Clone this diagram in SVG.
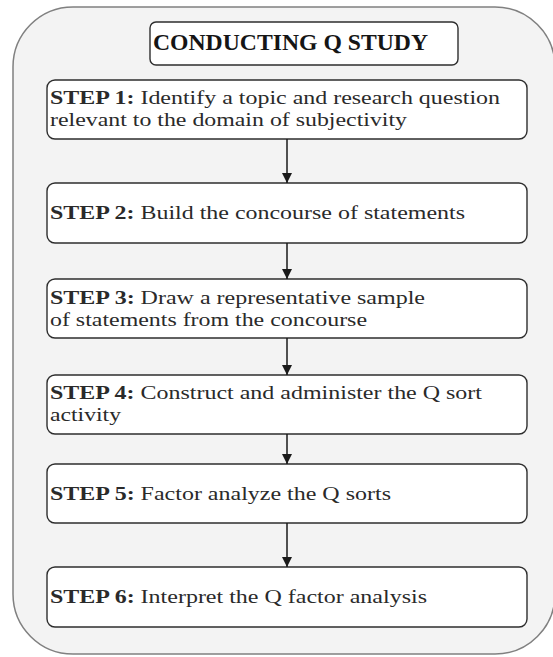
<svg xmlns="http://www.w3.org/2000/svg" width="553" height="657" viewBox="0 0 553 657">
  <style>
    .outer { fill: #f3f3f3; stroke: #808080; stroke-width: 1.5; }
    .box { fill: #ffffff; stroke: #2e2e2e; stroke-width: 1.4; }
    .t { font-family: "Liberation Serif", "Times New Roman", serif; font-size: 19.5px; fill: #2a2a2a; }
    .title { font-family: "Liberation Serif", "Times New Roman", serif; font-size: 23px; font-weight: bold; fill: #151515; }
    .b { font-weight: bold; }
    .conn { stroke: #1a1a1a; stroke-width: 1.5; fill: none; marker-end: url(#arrow); }
  </style>
  <defs>
    <marker id="arrow" viewBox="0 0 10 10" refX="10" refY="5" markerWidth="10" markerHeight="10" markerUnits="userSpaceOnUse" orient="auto">
      <path d="M0,0 L10,5 L0,10 Z" fill="#1a1a1a"/>
    </marker>
  </defs>

  <g id="container">
    <rect class="outer" x="13" y="7" width="542" height="647" rx="60" ry="60"/>
  </g>

  <g id="title">
    <rect class="box" x="150" y="22" width="308" height="43" rx="6"/>
    <text class="title" x="153" y="50" textLength="275" lengthAdjust="spacingAndGlyphs">CONDUCTING Q STUDY</text>
  </g>

  <g id="step1">
    <rect class="box" x="47" y="80" width="480" height="59" rx="8"/>
    <text class="t" x="50" y="104" textLength="450" lengthAdjust="spacingAndGlyphs"><tspan class="b">STEP 1:</tspan> Identify a topic and research question</text>
    <text class="t" x="50" y="126" textLength="357" lengthAdjust="spacingAndGlyphs">relevant to the domain of subjectivity</text>
  </g>

  <g id="step2">
    <rect class="box" x="47" y="183" width="480" height="60" rx="8"/>
    <text class="t" x="50" y="219" textLength="415" lengthAdjust="spacingAndGlyphs"><tspan class="b">STEP 2:</tspan> Build the concourse of statements</text>
  </g>

  <g id="step3">
    <rect class="box" x="47" y="279" width="480" height="59" rx="8"/>
    <text class="t" x="50" y="304" textLength="375" lengthAdjust="spacingAndGlyphs"><tspan class="b">STEP 3:</tspan> Draw a representative sample</text>
    <text class="t" x="50" y="326" textLength="317" lengthAdjust="spacingAndGlyphs">of statements from the concourse</text>
  </g>

  <g id="step4">
    <rect class="box" x="47" y="375" width="480" height="59" rx="8"/>
    <text class="t" x="50" y="399" textLength="432" lengthAdjust="spacingAndGlyphs"><tspan class="b">STEP 4:</tspan> Construct and administer the Q sort</text>
    <text class="t" x="50" y="421" textLength="71" lengthAdjust="spacingAndGlyphs">activity</text>
  </g>

  <g id="step5">
    <rect class="box" x="47" y="464" width="480" height="59" rx="8"/>
    <text class="t" x="50" y="500" textLength="341" lengthAdjust="spacingAndGlyphs"><tspan class="b">STEP 5:</tspan> Factor analyze the Q sorts</text>
  </g>

  <g id="step6">
    <rect class="box" x="47" y="567" width="480" height="60" rx="8"/>
    <text class="t" x="50" y="603" textLength="377" lengthAdjust="spacingAndGlyphs"><tspan class="b">STEP 6:</tspan> Interpret the Q factor analysis</text>
  </g>

  <g id="connectors">
    <line class="conn" x1="287" y1="139" x2="287" y2="183"/>
    <line class="conn" x1="287" y1="243" x2="287" y2="279"/>
    <line class="conn" x1="287" y1="338" x2="287" y2="375"/>
    <line class="conn" x1="287" y1="434" x2="287" y2="464"/>
    <line class="conn" x1="287" y1="523" x2="287" y2="567"/>
  </g>
</svg>
